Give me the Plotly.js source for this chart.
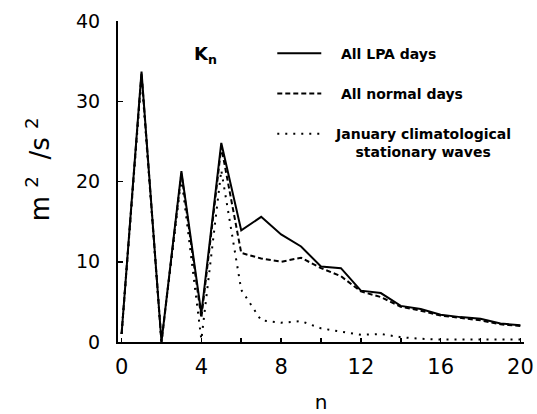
<!DOCTYPE html>
<html>
<head>
<meta charset="utf-8">
<script src="https://cdn.plot.ly/plotly-3.0.1.min.js"></script>
<style>
html, body { margin: 0; padding: 0; background: #fff; }
#chart { width: 537px; height: 414px; }
</style>
</head>
<body>
<div id="chart"></div>
<script>
const waveNumbers = [0, 1, 2, 3, 4, 5, 6, 7, 8, 9, 10, 11, 12, 13, 14, 15, 16, 17, 18, 19, 20];
const allLpaDays = [1, 33.7, 0, 21.3, 3.5, 24.8, 13.9, 15.6, 13.4, 11.9, 9.4, 9.2, 6.4, 6.1, 4.5, 4.1, 3.4, 3.1, 2.9, 2.3, 2.1];
const allNormalDays = [1, 33.5, 0, 21.0, 3.0, 24.3, 11.1, 10.4, 10.0, 10.5, 9.2, 8.2, 6.3, 5.6, 4.4, 3.9, 3.3, 3.0, 2.7, 2.2, 2.0];
const januaryStationary = [1, 33.0, 0, 20.5, 0.3, 21.4, 6.5, 2.7, 2.4, 2.6, 1.7, 1.3, 0.9, 1.0, 0.6, 0.4, 0.3, 0.3, 0.3, 0.3, 0.3];
const NB = "\u00a0";
const seriesNames = [
  NB + NB + NB + "All LPA days",
  NB + NB + NB + "All normal days",
  NB + NB + "January climatological<br>" + NB + NB + NB + NB + NB + NB + "stationary waves"
];
const xTickValues = [0, 4, 8, 12, 16, 20];
const yTickValues = [0, 10, 20, 30, 40];
const yTitleText = "m" + NB + "<sup>2</sup>" + NB + NB + "/s" + NB + "<sup>2</sup>";

const legendFont = { family: "DejaVu Sans", size: 14, color: "#000", weight: "bold" };

const traces = [
  { x: waveNumbers, y: allLpaDays, name: seriesNames[0], legendgroup: "a", mode: "lines",
    line: { color: "#000", width: 2, dash: "solid" } },
  { x: waveNumbers, y: allNormalDays, name: seriesNames[1], legendgroup: "b", mode: "lines",
    line: { color: "#000", width: 2, dash: "5px,3px" } },
  { x: waveNumbers, y: januaryStationary, name: seriesNames[2], legendgroup: "c", mode: "lines",
    line: { color: "#000", width: 2, dash: "2px,6px" } }
];

const layout = {
  width: 537, height: 414,
  margin: { l: 118, r: 13, t: 20.5, b: 72.3, pad: 0 },
  paper_bgcolor: "#fff", plot_bgcolor: "#fff",
  font: { family: "DejaVu Sans", color: "#000" },
  showlegend: true,
  legend: {
    x: 0.38, y: 0.948, xanchor: "left", yanchor: "top",
    bgcolor: "rgba(0,0,0,0)", borderwidth: 0,
    font: legendFont, tracegroupgap: 19, valign: "top", itemwidth: 44
  },
  xaxis: {
    range: [-0.18, 20.18], showgrid: false, zeroline: false,
    showline: true, linecolor: "#000", linewidth: 2,
    tickvals: xTickValues, ticks: "inside", ticklen: 4, tickwidth: 1.5, tickcolor: "#000",
    minor: { dtick: 2, tick0: 0, ticks: "inside", ticklen: 4, tickwidth: 1.5, tickcolor: "#000" },
    tickfont: { family: "DejaVu Sans", size: 21, color: "#000" },
    ticklabelstandoff: 5,
    title: { text: "n", font: { family: "DejaVu Sans", size: 20, color: "#000" }, standoff: 18 }
  },
  yaxis: {
    range: [0, 40], showgrid: false, zeroline: false,
    showline: true, linecolor: "#000", linewidth: 2,
    tickvals: yTickValues, ticks: "inside", ticklen: 5, tickwidth: 1.5, tickcolor: "#000",
    tickfont: { family: "DejaVu Sans", size: 19, color: "#000" },
    ticklabelstandoff: 12
  },
  annotations: [
    { xref: "x", yref: "y", x: 3.55, y: 35.8, xanchor: "left", yanchor: "middle",
      text: "<b>K<sub>n</sub></b>", showarrow: false,
      font: { family: "DejaVu Sans", size: 18, color: "#000" } },
    { xref: "paper", yref: "paper", x: -0.197, y: 0.538, xanchor: "center", yanchor: "middle",
      textangle: -90, text: yTitleText, showarrow: false,
      font: { family: "DejaVu Sans", size: 26, color: "#000" } }
  ]
};

Plotly.newPlot("chart", traces, layout, { displayModeBar: false, staticPlot: true });
</script>
</body>
</html>
